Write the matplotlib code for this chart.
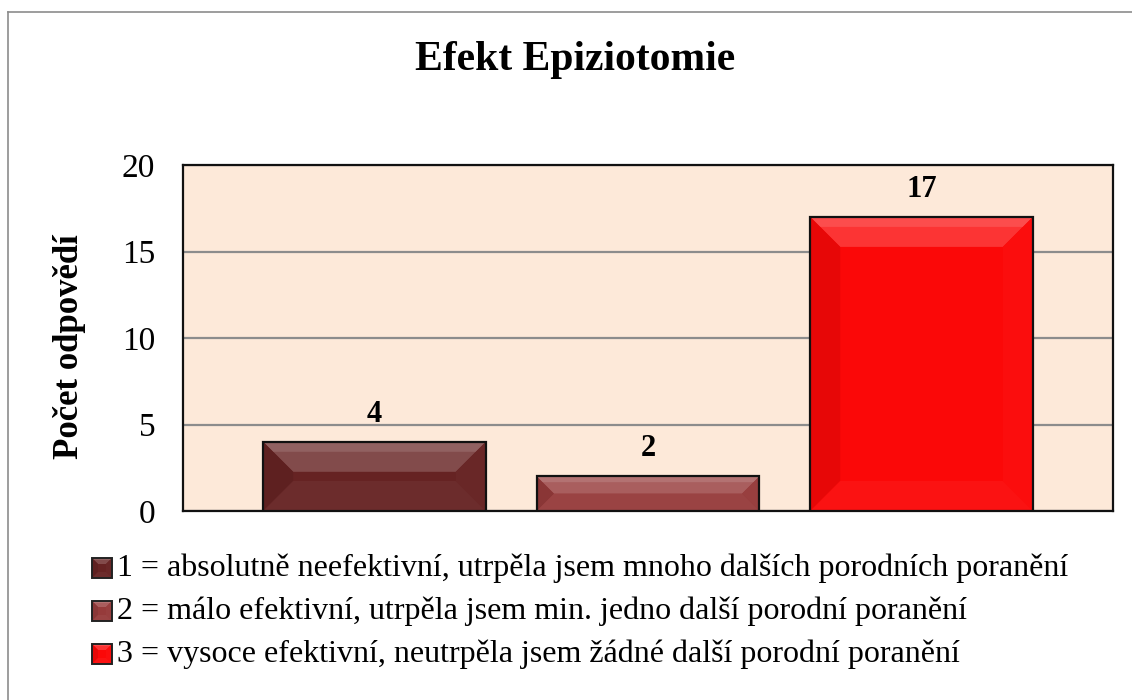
import matplotlib.pyplot as plt
import matplotlib.colors as mcolors
from matplotlib.patches import Polygon, Rectangle
from matplotlib.lines import Line2D

categories = ['1 = absolutně neefektivní, utrpěla jsem mnoho dalších porodních poranění',
              '2 = málo efektivní, utrpěla jsem min. jedno další porodní poranění',
              '3 = vysoce efektivní, neutrpěla jsem žádné další porodní poranění']
counts = [4, 2, 17]
colors = ['#662323', '#963b3b', '#fb0808']
yticks = [0, 5, 10, 15, 20]

plt.rcParams['font.family'] = ['Liberation Serif', 'DejaVu Serif']

W, H = 1132, 700
fig = plt.figure(figsize=(W / 100, H / 100), dpi=100)
ax = fig.add_axes([183 / W, 1 - 511 / H, (1113 - 183) / W, (511 - 165) / H])
ax.set_facecolor('#fde9d9')


def shade(c, f):
    r, g, b = mcolors.to_rgb(c)
    if f > 0:
        return (r + (1 - r) * f, g + (1 - g) * f, b + (1 - b) * f)
    return (r * (1 + f), g * (1 + f), b * (1 + f))


def bevel(x0, y0, x1, y1, c, b, to_data=None, transform=None, z=3):
    # pixel coords, y0 = bottom; bevel clamped to half the shorter side
    b = min(b, (y1 - y0) / 2, (x1 - x0) / 2)
    faces = [
        ([(x0, y1), (x1, y1), (x1 - b, y1 - b), (x0 + b, y1 - b)], shade(c, 0.18)),
        ([(x0, y1), (x1, y1), (x1 - b / 3, y1 - b / 3), (x0 + b / 3, y1 - b / 3)], shade(c, 0.28)),
        ([(x0, y0), (x0, y1), (x0 + b, y1 - b), (x0 + b, y0 + b)], shade(c, -0.08)),
        ([(x1, y0), (x1, y1), (x1 - b, y1 - b), (x1 - b, y0 + b)], shade(c, 0.02)),
        ([(x0, y0), (x1, y0), (x1 - b, y0 + b), (x0 + b, y0 + b)], shade(c, 0.04)),
    ]
    out = []
    for pts, fc in faces:
        if to_data is not None:
            pts = to_data.transform(pts)
        out.append(Polygon(pts, closed=True, facecolor=fc, edgecolor='none',
                           transform=transform, zorder=z))
    return out


x = list(range(len(counts)))
ax.set_xlim(-0.7, 2.7)
ax.set_ylim(0, 20)
ax.set_yticks(yticks)
ax.set_xticks([])
ax.grid(axis='y', color='#8c8c8c', linewidth=1.6)
ax.set_axisbelow(True)
for s in ax.spines.values():
    s.set_linewidth(1.6)
    s.set_color('#111111')

bars = ax.bar(x, counts, width=0.814, color=colors, edgecolor='none', zorder=2)
inv = ax.transData.inverted()
for bar, c in zip(bars, colors):
    bb = bar.get_window_extent()
    for p in bevel(bb.x0, bb.y0, bb.x1, bb.y1, c, 30, to_data=inv, transform=ax.transData):
        ax.add_patch(p)
    ax.add_patch(Rectangle((bar.get_x(), 0), bar.get_width(), bar.get_height(),
                           facecolor='none', edgecolor='#111111', linewidth=1.6, zorder=4))
    ax.text(bar.get_x() + bar.get_width() / 2, bar.get_height() + 1.6,
            str(int(bar.get_height())),
            ha='center', va='center', fontsize=22, fontweight='bold', zorder=5)

ax.tick_params(axis='y', length=0, pad=20, labelsize=24)
ax.set_ylabel('Počet odpovědí', fontsize=25, fontweight='bold')
ax.yaxis.set_label_coords(-0.104, 0.475)

fig.text(0.508, 1 - 60 / H, 'Efekt Epiziotomie', ha='center', va='center',
         fontsize=30, fontweight='bold')

# legend
to_fig = fig.transFigure.inverted()
for i, (lab, c) in enumerate(zip(categories, colors)):
    yc = 568 + 43 * i
    x0, x1 = 92, 112
    y0, y1 = H - yc - 10, H - yc + 10
    fig.add_artist(Rectangle(to_fig.transform((x0, y0)), (x1 - x0) / W, (y1 - y0) / H,
                             transform=fig.transFigure, facecolor=c, edgecolor='none',
                             zorder=2))
    for p in bevel(x0, y0, x1, y1, c, 6, to_data=to_fig, transform=fig.transFigure):
        fig.add_artist(p)
    fig.add_artist(Rectangle(to_fig.transform((x0, y0)), (x1 - x0) / W, (y1 - y0) / H,
                             transform=fig.transFigure, facecolor='none', edgecolor='#222222',
                             linewidth=1.4, zorder=4))
    fig.text(117 / W, 1 - yc / H, lab, ha='left', va='center', fontsize=23)

# outer chart border
fig.add_artist(Line2D([8 / W, 8 / W], [0, 1 - 12 / H], color='#8c8c8c', linewidth=1.2,
                      transform=fig.transFigure))
fig.add_artist(Line2D([8 / W, 1], [1 - 12 / H, 1 - 12 / H], color='#8c8c8c', linewidth=1.2,
                      transform=fig.transFigure))

fig.savefig('out.png', dpi=100)
